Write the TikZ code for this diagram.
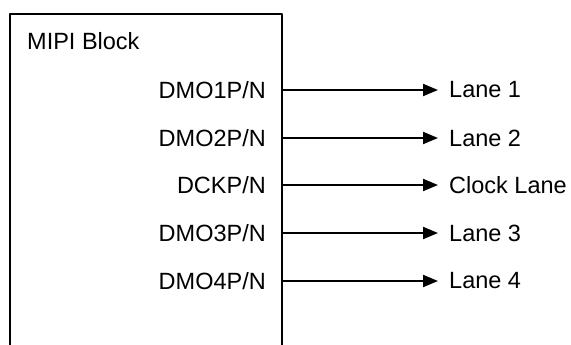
\documentclass[tikz,border=0pt]{standalone}
\usepackage{fontspec}
\setmainfont{Liberation Sans}
\usetikzlibrary{arrows.meta}
\begin{document}
\begin{tikzpicture}[>={Triangle[length=15bp,width=12bp]},line join=bevel,
  sig/.style={anchor=east,inner sep=0bp},
  lane/.style={anchor=west,inner xsep=11bp,inner ysep=0bp},
  wire/.style={->,line width=2bp}]
  \fontsize{23.5bp}{28bp}\selectfont
  \useasboundingbox (0bp,0bp) rectangle (571bp,345bp);
%%
\pgfsetcolor{black}
  % Block outline (open at the bottom)
  \draw [line width=2bp] (10bp,0bp) -- (10bp,331bp) -- (282bp,331bp) -- (282bp,0bp);
  % Node: Block
  \node [anchor=base west,inner sep=0bp] (block) at (27bp,295bp) {MIPI Block};
  % Node: pins
  \node [sig] (dmo1) at (266bp,255bp) {DMO1P/N};
  \node [sig] (dmo2) at (266bp,207bp) {DMO2P/N};
  \node [sig] (dckp) at (266bp,160bp) {DCKP/N};
  \node [sig] (dmo3) at (266bp,112bp) {DMO3P/N};
  \node [sig] (dmo4) at (266bp,64bp) {DMO4P/N};
  \coordinate (pin1) at (282bp,255bp);
  \coordinate (pin2) at (282bp,207bp);
  \coordinate (pinc) at (282bp,160bp);
  \coordinate (pin3) at (282bp,112bp);
  \coordinate (pin4) at (282bp,64bp);
  % Node: lanes
  \node [lane] (lane1) at (438bp,255bp) {Lane 1};
  \node [lane] (lane2) at (438bp,207bp) {Lane 2};
  \node [lane] (lanec) at (438bp,160bp) {Clock Lane};
  \node [lane] (lane3) at (438bp,112bp) {Lane 3};
  \node [lane] (lane4) at (438bp,64bp) {Lane 4};
  % Edge: pins -> lanes
  \draw [wire] (pin1) -- (lane1.west);
  \draw [wire] (pin2) -- (lane2.west);
  \draw [wire] (pinc) -- (lanec.west);
  \draw [wire] (pin3) -- (lane3.west);
  \draw [wire] (pin4) -- (lane4.west);
%
\end{tikzpicture}
\end{document}
